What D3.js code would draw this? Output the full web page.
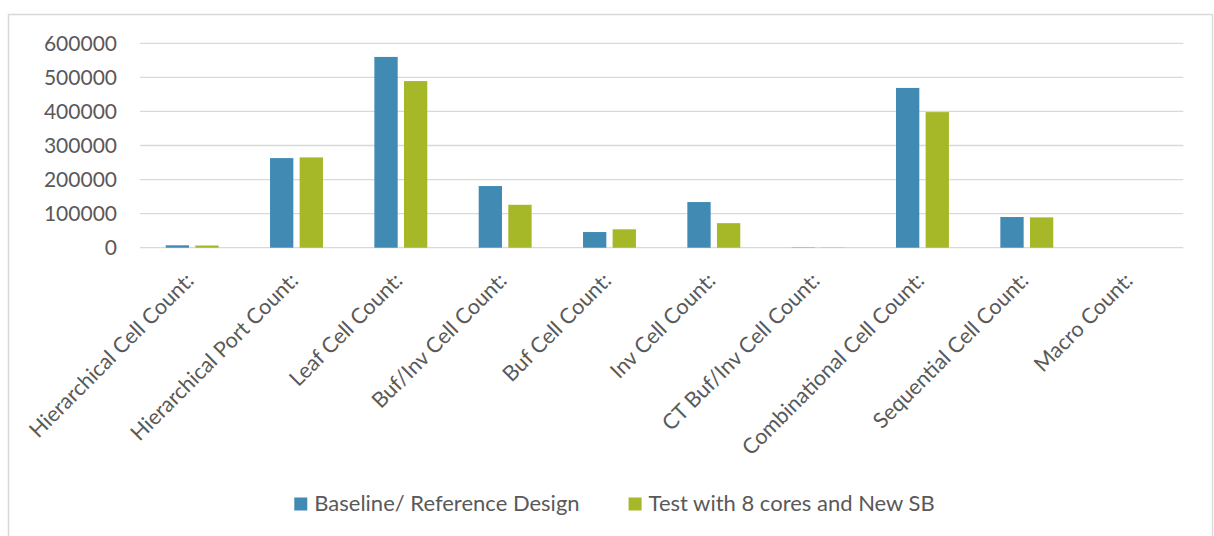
<!DOCTYPE html>
<html>
  <head>
    <meta charset="utf-8">
    <title>Cell Count Comparison</title>
    <script src="https://cdn.jsdelivr.net/npm/d3@7"></script>
    <style>
body {
  margin: 0;
  background: #fff;
  font-family: Lato, "Open Sans", sans-serif;
}
.grid line {
  stroke: #d9d9d9;
  stroke-width: 1.3px;
}
.tick-label {
  fill: #595959;
  font-size: 21px;
}
.cat-label {
  fill: #595959;
  font-size: 21.5px;
}
.legend text {
  fill: #595959;
  font-size: 22px;
}
    </style>
  </head>
  <body>
    <script>

var categories = [
  "Hierarchical Cell Count:",
  "Hierarchical Port Count:",
  "Leaf Cell Count:",
  "Buf/Inv Cell Count:",
  "Buf Cell Count:",
  "Inv Cell Count:",
  "CT Buf/Inv Cell Count:",
  "Combinational Cell Count:",
  "Sequential Cell Count:",
  "Macro Count:"
];

var seriesNames = ["Baseline/ Reference Design", "Test with 8 cores and New SB"];
var seriesColors = ["#418ab3", "#a6b727"];

var baseline = [7000, 263000, 560000, 181000, 46000, 134000, 800, 469000, 90000, 0];
var testRun  = [6500, 265000, 489000, 126000, 54000, 72000, 700, 398000, 89000, 0];

var yTicks = [0, 100000, 200000, 300000, 400000, 500000, 600000];

var W = 1214, H = 536;

var svg = d3.select("body")
  .append("svg")
    .attr("width", W)
    .attr("height", H);

// chart frame
svg.append("rect")
    .attr("x", 8.5)
    .attr("y", 14.5)
    .attr("width", 1204)
    .attr("height", 530)
    .attr("fill", "none")
    .attr("stroke", "#d9d9d9")
    .attr("stroke-width", 1.5);

var x = d3.scaleBand()
    .domain(categories)
    .range([140, 1183.3]);

var x1 = d3.scaleBand()
    .domain(seriesNames)
    .range([0, x.bandwidth()])
    .paddingInner(0.213)
    .paddingOuter(0.868);

var y = d3.scaleLinear()
    .domain([0, 600000])
    .range([247.7, 43.3]);

// gridlines
var grid = svg.append("g").attr("class", "grid");
grid.selectAll("line")
    .data(yTicks)
  .enter().append("line")
    .attr("x1", 140)
    .attr("x2", 1183.3)
    .attr("y1", function(d) { return y(d); })
    .attr("y2", function(d) { return y(d); });

svg.append("g").selectAll("text")
    .data(yTicks)
  .enter().append("text")
    .attr("class", "tick-label")
    .attr("x", 117)
    .attr("y", function(d) { return y(d); })
    .attr("dy", ".35em")
    .attr("text-anchor", "end")
    .text(function(d) { return d; });

// bars
var rows = categories.map(function(c, i) {
  return {cat: c, values: [baseline[i], testRun[i]]};
});

var groups = svg.append("g").selectAll("g")
    .data(rows)
  .enter().append("g")
    .attr("transform", function(d) { return "translate(" + x(d.cat) + ",0)"; });

groups.selectAll("rect")
    .data(function(d) {
      return d.values.map(function(v, j) { return {name: seriesNames[j], value: v, j: j}; });
    })
  .enter().append("rect")
    .attr("x", function(d) { return x1(d.name); })
    .attr("y", function(d) { return y(d.value); })
    .attr("width", x1.bandwidth())
    .attr("height", function(d) { return y(0) - y(d.value); })
    .attr("fill", function(d) { return seriesColors[d.j]; });

// category labels, rotated
svg.append("g").selectAll("text")
    .data(categories)
  .enter().append("text")
    .attr("class", "cat-label")
    .attr("text-anchor", "end")
    .attr("transform", function(d) {
      return "translate(" + (x(d) + x.bandwidth() / 2 + 3) + ",282) rotate(-45)";
    })
    .text(function(d) { return d; });

// legend
var legend = svg.append("g").attr("class", "legend");
var items = legend.selectAll("g")
    .data(seriesNames)
  .enter().append("g");

items.append("rect")
    .attr("width", 13)
    .attr("height", 13)
    .attr("y", 497.5)
    .attr("fill", function(d, i) { return seriesColors[i]; });

items.append("text")
    .attr("x", 20)
    .attr("y", 511)
    .text(function(d) { return d; });

var widths = [];
items.each(function() {
  widths.push(d3.select(this).select("text").node().getComputedTextLength() + 20);
});
var gap = 49;
var total = d3.sum(widths) + gap * (widths.length - 1);
var start = 614.5 - total / 2;
items.attr("transform", function(d, i) {
  var off = start + d3.sum(widths.slice(0, i)) + gap * i;
  return "translate(" + off + ",0)";
});

    </script>
  </body>
</html>
